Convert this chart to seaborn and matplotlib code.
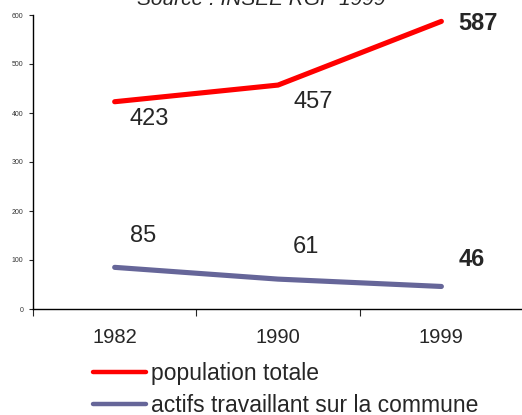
import matplotlib
matplotlib.use("Agg")
import matplotlib.pyplot as plt
import pandas as pd
import seaborn as sns

# data
years = ["1982", "1990", "1999"]
population = [423, 457, 587]
actifs = [85, 61, 46]
series_names = ["population totale", "actifs travaillant sur la commune"]

df = pd.DataFrame({
    "annee": years * 2,
    "valeur": population + actifs,
    "serie": [series_names[0]] * 3 + [series_names[1]] * 3,
})

sns.set_style("white")
plt.rcParams["font.family"] = ["Liberation Sans", "DejaVu Sans"]

fig = plt.figure(figsize=(5.22, 4.15), dpi=100)
ax = fig.add_axes([33 / 522, 106 / 415, 1.0 - 33 / 522 + 0.002, (309 - 15) / 415])

palette = {series_names[0]: "#ff0000", series_names[1]: "#666699"}
sns.lineplot(data=df, x="annee", y="valeur", hue="serie", palette=palette,
             linewidth=3.7, ax=ax, legend=False, sort=False)

ax.set_xlim(-0.5, 2.5)
ax.set_ylim(0, 600)
ax.set_xlabel("")
ax.set_ylabel("")
ax.set_yticks(range(0, 601, 100))
ax.tick_params(axis="y", labelsize=5, length=3, width=0.8, pad=4,
               labelcolor="#333333", left=True)
ax.set_xticks([0, 1, 2])
ax.set_xticklabels(years)
ax.set_xticks([-0.5, 0.5, 1.5, 2.5], minor=True)
ax.tick_params(axis="x", which="major", length=0, labelsize=14.5, pad=14)
ax.tick_params(axis="x", which="minor", length=5, width=0.8, bottom=True)
for s in ["top", "right"]:
    ax.spines[s].set_visible(False)
for s in ["left", "bottom"]:
    ax.spines[s].set_color("black")
    ax.spines[s].set_linewidth(1.0)

# value labels
pop_offsets = [(35, -15), (35, -14), (37, 0)]
act_offsets = [(28, 34), (28, 35), (30, 29)]
for i, (v, off) in enumerate(zip(population, pop_offsets)):
    ax.annotate(str(v), (i, v), xytext=off, textcoords="offset pixels",
                ha="center", va="center_baseline", fontsize=17,
                fontweight="bold" if i == 2 else "normal")
for i, (v, off) in enumerate(zip(actifs, act_offsets)):
    ax.annotate(str(v), (i, v), xytext=off, textcoords="offset pixels",
                ha="center", va="center_baseline", fontsize=17,
                fontweight="bold" if i == 2 else "normal")

fig.text(0.5, 1 - 5 / 415, "Source : INSEE RGP 1999", ha="center",
         va="baseline", fontsize=15, style="italic")

handles = [plt.Line2D([], [], color=palette[n], linewidth=3.2) for n in series_names]
fig.legend(handles, series_names, loc="upper left",
           bbox_to_anchor=(93 / 522, 1 - 362 / 415), frameon=False,
           fontsize=16.5, handlelength=2.3, handletextpad=0.22,
           labelspacing=0.38, borderpad=0, borderaxespad=0)

fig.savefig("out.png", dpi=100)
